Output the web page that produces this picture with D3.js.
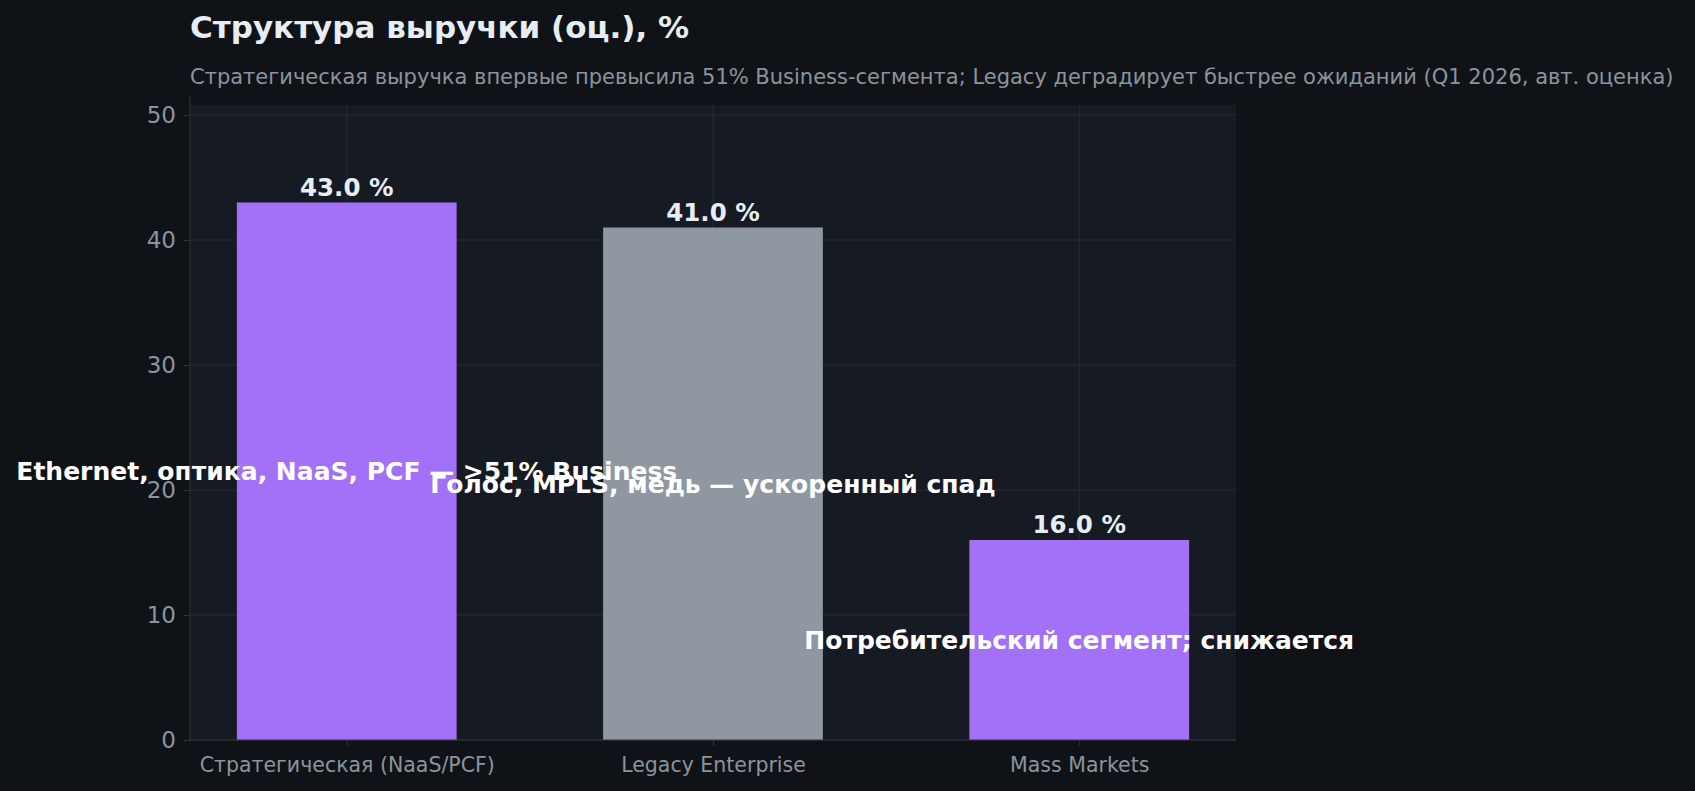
<!DOCTYPE html>
<html><head><meta charset="utf-8">
<script src="https://cdn.jsdelivr.net/npm/d3@7"></script>
<style>body{margin:0;background:#0f1317;font-family:"DejaVu Sans",sans-serif}</style>
</head><body><svg></svg>
<script>
var categories = ['Стратегическая (NaaS/PCF)', 'Legacy Enterprise', 'Mass Markets'];
var values = [43.0, 41.0, 16.0];
var colors = ['#a371f7', '#8f97a1', '#a371f7'];
var notes = ['Ethernet, оптика, NaaS, PCF — >51% Business', 'Голос, MPLS, медь — ускоренный спад', 'Потребительский сегмент; снижается'];
var yTicks = [0, 10, 20, 30, 40, 50];

var W = 1695, H = 791,
    m = {left: 190, right: 1236, top: 105, bottom: 740};
var svg = d3.select('svg').attr('width', W).attr('height', H);
svg.append('rect').attr('width', W).attr('height', H).attr('fill', '#0f1317');

var x = d3.scaleLinear().domain([-0.428, 2.428]).range([m.left, m.right]);
var y = d3.scaleLinear().domain([0, 50.8]).range([m.bottom, m.top]);

svg.append('rect').attr('x', m.left).attr('y', m.top)
  .attr('width', m.right - m.left).attr('height', m.bottom - m.top).attr('fill', '#161a22');

// grid
svg.selectAll('.gy').data(yTicks).enter().append('line')
  .attr('x1', m.left).attr('x2', m.right).attr('y1', function(d){return y(d);}).attr('y2', function(d){return y(d);})
  .attr('stroke', '#262b34').attr('stroke-width', 1);
svg.selectAll('.gx').data(categories).enter().append('line')
  .attr('x1', function(d, i){return x(i);}).attr('x2', function(d, i){return x(i);})
  .attr('y1', m.top).attr('y2', m.bottom).attr('stroke', '#262b34');

svg.selectAll('.bar').data(values).enter().append('rect')
  .attr('x', function(d, i){return x(i - 0.3);})
  .attr('width', x(0.3) - x(-0.3))
  .attr('y', function(d){return y(d);})
  .attr('height', function(d){return y(0) - y(d);})
  .attr('fill', function(d, i){return colors[i];});

svg.selectAll('.val').data(values).enter().append('text')
  .attr('x', function(d, i){return x(i);}).attr('y', function(d){return y(d) - 7;})
  .attr('text-anchor', 'middle').attr('fill', '#e6edf3').attr('font-size', 24.5).attr('font-weight', 'bold')
  .text(function(d){return d.toFixed(1) + ' %';});

svg.selectAll('.note').data(values).enter().append('text')
  .attr('x', function(d, i){return x(i);}).attr('y', function(d){return y(d / 2);})
  .attr('dy', '0.35em').attr('text-anchor', 'middle').attr('fill', '#ffffff')
  .attr('font-size', 25).attr('font-weight', 'bold')
  .text(function(d, i){return notes[i];});

// axes
var ya = svg.append('g').attr('transform', 'translate(' + m.left + ',0)')
  .call(d3.axisLeft(y).tickValues(yTicks).tickSize(6).tickPadding(8));
var xa = svg.append('g').attr('transform', 'translate(0,' + m.bottom + ')')
  .call(d3.axisBottom(x).tickValues([0, 1, 2]).tickFormat(function(d){return categories[d];}).tickSize(6).tickPadding(11));
ya.selectAll('text').attr('fill', '#8b949e').attr('font-size', 23).attr('font-family', 'DejaVu Sans');
xa.selectAll('text').attr('fill', '#8b949e').attr('font-size', 20.5).attr('font-family', 'DejaVu Sans');
svg.selectAll('.domain, .tick line').attr('stroke', '#30363d');
ya.select('.domain').attr('d', 'M0,' + (m.top - 10) + 'V' + m.bottom);
xa.select('.domain').attr('d', 'M' + m.left + ',0H' + m.right);

svg.append('text').attr('x', 190).attr('y', 38).attr('fill', '#e6edf3')
  .attr('font-size', 31).attr('font-weight', 'bold').text('Структура выручки (оц.), %');
svg.append('text').attr('x', 190).attr('y', 84).attr('fill', '#8b949e').attr('font-size', 21)
  .text('Стратегическая выручка впервые превысила 51% Business-сегмента; Legacy деградирует быстрее ожиданий (Q1 2026, авт. оценка)');
</script></body></html>
